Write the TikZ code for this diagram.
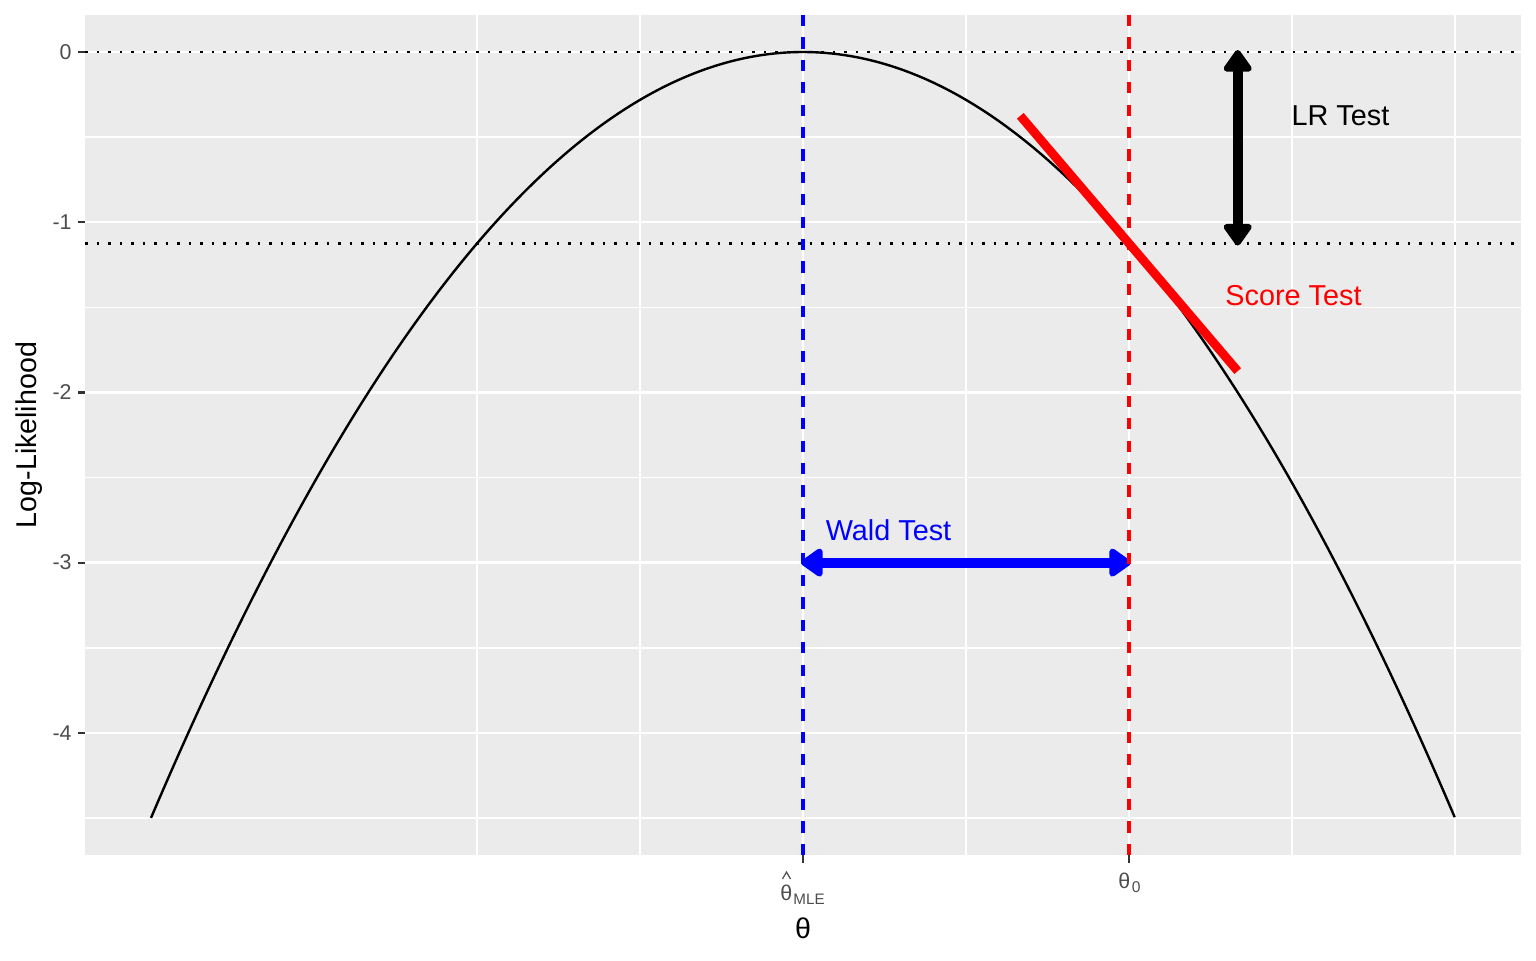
\documentclass[tikz,border=0pt]{standalone}
\usepackage{fontspec}
\setmainfont{Liberation Sans}
\usetikzlibrary{arrows.meta}
\definecolor{panelbg}{HTML}{EBEBEB}
\definecolor{ticktext}{HTML}{4D4D4D}
\definecolor{tickcol}{HTML}{333333}
\begin{document}
\begin{tikzpicture}[x=0.5pt,y=-0.5pt,
  gridminor/.style={white,line width=0.8pt},
  gridmajor/.style={white,line width=1.15pt},
  curve/.style={black,line width=1.2pt},
  dotline/.style={black,line width=1.3pt,dash pattern=on 1.3pt off 4.45pt},
  vdash/.style={line width=1.55pt,dash pattern=on 5.6pt off 5.6pt},
  tangent/.style={red,line width=4.4pt},
  bigarrow/.style={line width=5pt,{Triangle[round,length=12pt,width=16pt]}-{Triangle[round,length=12pt,width=16pt]}},
  ticklbl/.style={text=ticktext,font=\fontsize{10.7}{12}\selectfont,inner sep=0pt},
  tickmark/.style={tickcol,line width=1.1pt},
  axtitle/.style={text=black,font=\fontsize{14.3}{16}\selectfont,inner sep=0pt},
  annot/.style={font=\fontsize{14.4}{16}\selectfont,inner sep=0pt}
]
\useasboundingbox (0,0) rectangle (1536,960);
% panel
\fill[panelbg] (85,15) rectangle (1521,855);
\foreach \yy in {137.1,307.3,477.5,647.7,817.9}
  \draw[gridminor] (85,\yy) -- (1521,\yy);
\foreach \xx in {477,640,966,1292,1455}
  \draw[gridminor] (\xx,15) -- (\xx,855);
\foreach \yy in {52,222.2,392.4,562.6,732.8}
  \draw[gridmajor] (85,\yy) -- (1521,\yy);
\foreach \xx in {803,1129}
  \draw[gridmajor] (\xx,15) -- (\xx,855);
% log-likelihood curve
\draw[curve] plot[domain=-3:3,samples=161,smooth] ({803+217.33*\x},{52+85.1*\x*\x});
% dotted reference lines
\draw[dotline] (85,52) -- (1521,52);
\draw[dotline] (85,243.5) -- (1521,243.5);
% coordinates
\coordinate (lrtop) at (1237.7,50);
\coordinate (lrbot) at (1237.7,245.5);
\coordinate (wl) at (801,562.6);
\coordinate (wr) at (1131,562.6);
\coordinate (ts) at (1020.3,115.8);
\coordinate (te) at (1237.7,371.1);
\coordinate (vbtop) at (803,15);
\coordinate (vbbot) at (803,855);
\coordinate (vrtop) at (1129,15);
\coordinate (vrbot) at (1129,855);
% tests
\draw[tangent] (ts) -- (te);
\draw[bigarrow,black] (lrtop) -- (lrbot);
\draw[bigarrow,blue] (wl) -- (wr);
% vertical dashed lines
\draw[vdash,blue] (vbtop) -- (vbbot);
\draw[vdash,red] (vrtop) -- (vrbot);
% annotations
\node[annot,text=black] (lrlbl) at (1340.5,116) {LR Test};
\node[annot,text=red] (sclbl) at (1293.5,296) {Score Test};
\node[annot,text=blue] (wdlbl) at (888.5,530.5) {Wald Test};
% y axis ticks and labels
\foreach \yy/\lab [count=\i] in {52/0,222.2/-1,392.4/-2,562.6/-3,732.8/-4}{
  \draw[tickmark] (78,\yy) -- (85,\yy);
  \node[ticklbl,anchor=east] (ylab\i) at (72,\yy) {\lab};
}
% x axis ticks
\draw[tickmark] (803,855) -- (803,863);
\draw[tickmark] (1129,855) -- (1129,863);
% x tick labels
\node[ticklbl,anchor=base west] (thmle) at (780,900) {θ};
\node[ticklbl,anchor=base west,font=\fontsize{7.6}{9}\selectfont] (thmlesub) at (793,904) {MLE};
\draw[ticktext,line width=0.6pt] (782.5,879) -- (786.5,872) -- (790.5,879);
\node[ticklbl,anchor=base west] (th0) at (1118,888) {θ};
\node[ticklbl,anchor=base west,font=\fontsize{7.8}{9}\selectfont] (th0sub) at (1131.5,892) {0};
% axis titles
\node[axtitle,anchor=base] (xtitle) at (803,938) {θ};
\node[axtitle,anchor=base,rotate=90] (ytitle) at (36,435) {Log-Likelihood};
\end{tikzpicture}
\end{document}
